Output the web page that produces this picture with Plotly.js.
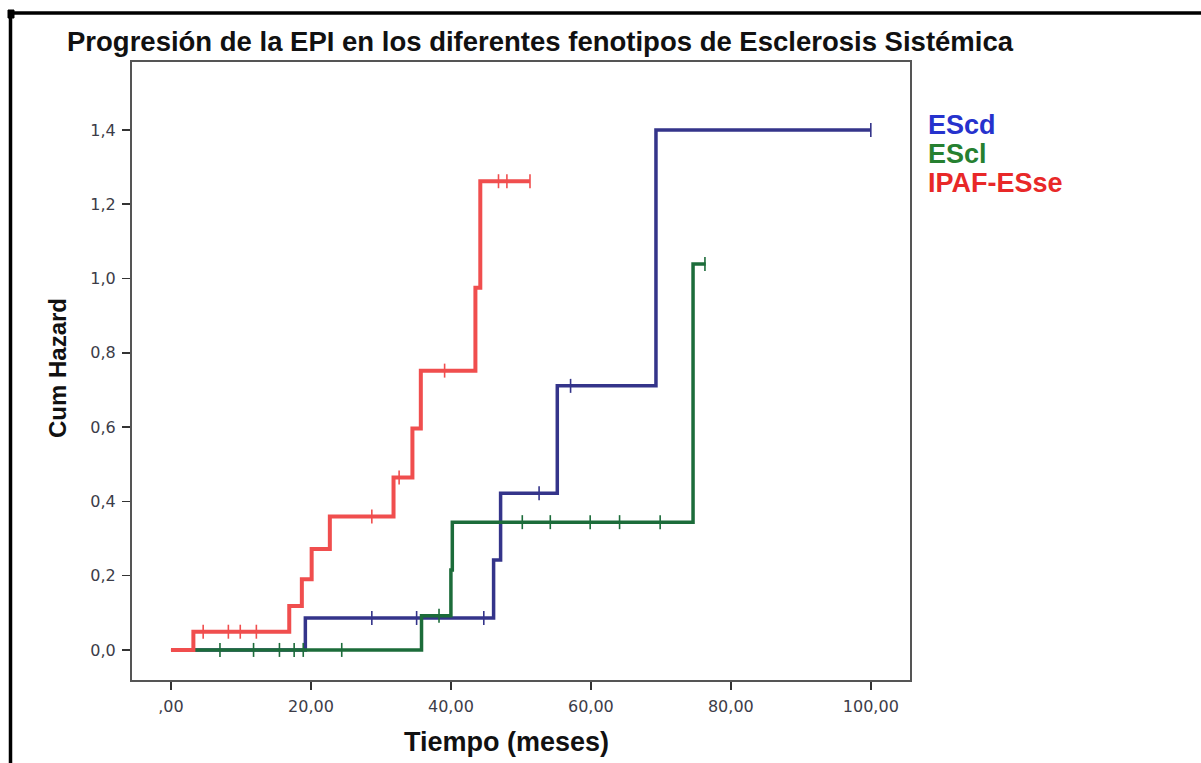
<!DOCTYPE html>
<html>
<head>
<meta charset="utf-8">
<script src="https://cdn.plot.ly/plotly-3.0.1.min.js"></script>
<style>
html,body{margin:0;padding:0;background:#fff;}
#chart{width:1201px;height:763px;}
</style>
</head>
<body>
<div id="chart"></div>
<script>
// ---- Data ----
const seriesNames = ["EScd", "EScl", "IPAF-ESse"];

// EScd (blue)
const bluTime = [0, 19.2, 46.1, 47.1, 55.2, 69.3, 100];
const bluHaz  = [0, 0.086, 0.242, 0.422, 0.711, 1.400, 1.400];
const bluCens = [28.7, 35.1, 44.7, 52.6, 57.1, 100];

// EScl (green)
const grnTime = [0, 35.8, 40.0, 40.2, 74.6, 76.4];
const grnHaz  = [0, 0.092, 0.215, 0.344, 1.039, 1.039];
const grnCens = [7.0, 11.8, 15.5, 17.6, 18.9, 24.4, 38.3, 50.2, 54.2, 59.9, 64.1, 69.9, 76.3];

// IPAF-ESse (red)
const redTime = [0, 3.2, 16.9, 18.7, 20.1, 22.7, 31.8, 34.5, 35.7, 43.5, 44.2, 51.3];
const redHaz  = [0, 0.049, 0.118, 0.190, 0.272, 0.359, 0.464, 0.596, 0.752, 0.975, 1.262, 1.262];
const redCens = [4.6, 8.2, 9.9, 12.2, 28.7, 32.6, 39.1, 46.8, 48.0, 51.3];

const xTickVals = [0, 20, 40, 60, 80, 100];
const xTickText = [",00", "20,00", "40,00", "60,00", "80,00", "100,00"];
const yTickVals = [0, 0.2, 0.4, 0.6, 0.8, 1.0, 1.2, 1.4];
const yTickText = ["0,0", "0,2", "0,4", "0,6", "0,8", "1,0", "1,2", "1,4"];

// ---- Styles ----
const lineCol  = ["rgb(52,52,138)", "rgb(28,108,58)", "rgb(240,78,78)"];
const labelCol = ["rgb(38,50,205)", "rgb(38,128,48)", "rgb(232,40,40)"];

function stepAt(times, haz, t) {
  let v = haz[0];
  for (let i = 0; i < times.length; i++) { if (times[i] <= t) v = haz[i]; }
  return v;
}

function makeTraces(times, haz, cens, col, name, w) {
  return [
    {x: times, y: haz, type: "scatter", mode: "lines", name: name,
     line: {shape: "hv", color: col, width: w}, hoverinfo: "skip", showlegend: false},
    {x: cens, y: cens.map(t => stepAt(times, haz, t)), type: "scatter", mode: "markers",
     name: name + " censored",
     marker: {symbol: "line-ns", size: 10, color: col, line: {color: col, width: 1.6}},
     hoverinfo: "skip", showlegend: false}
  ];
}

const data = [
  ...makeTraces(bluTime, bluHaz, bluCens, lineCol[0], seriesNames[0], 3.5),
  ...makeTraces(grnTime, grnHaz, grnCens, lineCol[1], seriesNames[1], 3.5),
  ...makeTraces(redTime, redHaz, redCens, lineCol[2], seriesNames[2], 4)
];

// pixel helpers for decoration positions
const W = 1201, H = 763, ML = 132, MR = 291, MT = 62, MB = 83;
const PW = W - ML - MR, PH = H - MT - MB;
const px = v => (v - ML) / PW;
const py = v => (H - MB - v) / PH;

const tickFont = {family: "DejaVu Sans, Verdana, sans-serif", size: 16, color: "#3c3c48"};

const annotations = [
  {text: "<b>Tiempo (meses)</b>", xref: "paper", yref: "paper", x: px(506), y: py(742),
   xanchor: "center", yanchor: "middle", showarrow: false,
   font: {family: "Liberation Sans, Arial, sans-serif", size: 27, color: "#111"}},
  {text: "<b>Cum Hazard</b>", xref: "paper", yref: "paper", x: px(57), y: py(368),
   xanchor: "center", yanchor: "middle", showarrow: false, textangle: -90,
   font: {family: "Liberation Sans, Arial, sans-serif", size: 24, color: "#111"}}
];
const legY = [125, 154, 183];
seriesNames.forEach((n, i) => annotations.push({
  text: "<b>" + n + "</b>", xref: "paper", yref: "paper", x: px(926), y: py(legY[i]),
  xanchor: "left", yanchor: "middle", showarrow: false,
  font: {family: "Liberation Sans, Arial, sans-serif", size: 27, color: labelCol[i]}
}));

const shapes = [
  // outer frame (top and left)
  {type: "line", xref: "paper", yref: "paper", x0: px(8), x1: px(1205), y0: py(13), y1: py(13),
   line: {color: "#000", width: 3.5}},
  {type: "line", xref: "paper", yref: "paper", x0: px(10.5), x1: px(10.5), y0: py(11), y1: py(770),
   line: {color: "#000", width: 3.5}},
  {type: "rect", xref: "paper", yref: "paper", x0: px(8), x1: px(14), y0: py(10), y1: py(18),
   line: {color: "#000", width: 1}, fillcolor: "#000"}
];

const layout = {
  width: W, height: H,
  margin: {l: ML, r: MR, t: MT, b: MB, pad: 0},
  paper_bgcolor: "#fff", plot_bgcolor: "#fff",
  title: {text: "<b>Progresión de la EPI en los diferentes fenotipos de Esclerosis Sistémica</b>",
          xref: "container", yref: "container", x: 67 / W, xanchor: "left",
          y: 1 - 41 / H, yanchor: "middle",
          font: {family: "Liberation Sans, Arial, sans-serif", size: 27.5, color: "#111"}},
  xaxis: {range: [-5.57, 105.6], tickvals: xTickVals, ticktext: xTickText,
          ticks: "outside", ticklen: 8, tickwidth: 1.5, tickcolor: "#333",
          showline: true, linecolor: "#555", linewidth: 2, mirror: true,
          showgrid: false, zeroline: false, tickfont: tickFont, ticklabelstandoff: 3,
          fixedrange: true},
  yaxis: {range: [-0.081, 1.583], tickvals: yTickVals, ticktext: yTickText,
          ticks: "outside", ticklen: 8, tickwidth: 1.5, tickcolor: "#333",
          showline: true, linecolor: "#555", linewidth: 2, mirror: true,
          showgrid: false, zeroline: false, tickfont: tickFont, ticklabelstandoff: 3,
          fixedrange: true},
  showlegend: false,
  annotations: annotations,
  shapes: shapes
};

Plotly.newPlot("chart", data, layout, {displayModeBar: false, staticPlot: true});
</script>
</body>
</html>
